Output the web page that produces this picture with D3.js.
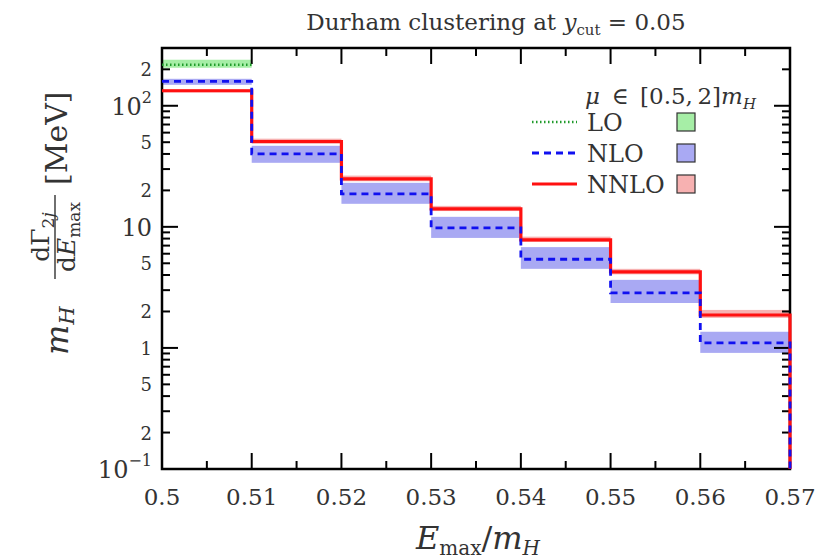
<!DOCTYPE html>
<html><head><meta charset="utf-8">
<script src="https://cdn.jsdelivr.net/npm/d3@7"></script>
<style>body{margin:0;background:#fff}svg{display:block}svg text{font-family:"DejaVu Serif"}</style>
</head><body><svg id="c" width="822" height="559"></svg>
<script>
const binEdges = [0.50,0.51,0.52,0.53,0.54,0.55,0.56,0.57];
const loCentral = [218];
const loLow = [206];
const loHigh = [240];
const nloCentral = [159,40.1,18.7,9.8,5.4,2.85,1.10];
const nloLow = [149,33.8,15.5,8.1,4.5,2.35,0.91];
const nloHigh = [167,46.7,23.1,12.1,6.8,3.65,1.36];
const nnloCentral = [133,50.7,24.9,14.1,7.8,4.24,1.87];
const nnloLow = [129,48.5,23.8,13.5,7.5,4.05,1.77];
const nnloHigh = [137,53.5,26.5,14.9,8.3,4.5,2.06];
const xTicks = [0.50,0.51,0.52,0.53,0.54,0.55,0.56,0.57];
const xTickLabels = ["0.5","0.51","0.52","0.53","0.54","0.55","0.56","0.57"];
const yLabelTicks = [0.1,0.2,0.5,1,2,5,10,20,50,100,200];
const yLabelText = [["10","−1"],["2"],["5"],["1"],["2"],["5"],["10"],["2"],["5"],["10","2"],["2"]];

const svg = d3.select("#c");
const INK = "#333";
const L=162,R=790,T=48,B=469;
const x = d3.scaleLinear().domain([0.50,0.57]).range([L,R]);
const y = d3.scaleLog().domain([0.1,300]).range([B,T]);

function bands(lo,hi,color){
  svg.append("g").selectAll("rect").data(lo).join("rect")
    .attr("x",(d,i)=>x(binEdges[i])).attr("width",(d,i)=>x(binEdges[i+1])-x(binEdges[i]))
    .attr("y",(d,i)=>y(hi[i])).attr("height",(d,i)=>y(lo[i])-y(hi[i]))
    .attr("fill",color);
}
bands(loLow,loHigh,"#a6eea6");
bands(nloLow,nloHigh,"#a9a9f3");
bands(nnloLow,nnloHigh,"#f7b1b1");

const g = svg.append("g").attr("stroke","#000");
const minorX = d3.range(0.505,0.57,0.01);
xTicks.forEach(v=>{
  g.append("line").attr("x1",x(v)).attr("x2",x(v)).attr("y1",B).attr("y2",B-16).attr("stroke-width",2);
  g.append("line").attr("x1",x(v)).attr("x2",x(v)).attr("y1",T).attr("y2",T+16).attr("stroke-width",2);
});
minorX.forEach(v=>{
  g.append("line").attr("x1",x(v)).attr("x2",x(v)).attr("y1",B).attr("y2",B-8).attr("stroke-width",2);
  g.append("line").attr("x1",x(v)).attr("x2",x(v)).attr("y1",T).attr("y2",T+8).attr("stroke-width",2);
});
const yAll = [];
[0.1,1,10,100].forEach(dec=>{for(let k=1;k<=9;k++){const v=dec*k; if(v<=300) yAll.push([v,k===1]);}});
yAll.forEach(([v,maj])=>{
  const len = maj?16:8;
  g.append("line").attr("x1",L).attr("x2",L+len).attr("y1",y(v)).attr("y2",y(v)).attr("stroke-width",2);
  g.append("line").attr("x1",R).attr("x2",R-len).attr("y1",y(v)).attr("y2",y(v)).attr("stroke-width",2);
});
g.append("rect").attr("x",L).attr("y",T).attr("width",R-L).attr("height",B-T).attr("fill","none").attr("stroke-width",2.5);

svg.append("g").selectAll("text").data(xTicks).join("text")
  .attr("x",d=>x(d)).attr("y",B+36).attr("text-anchor","middle").attr("font-size",23).attr("fill",INK)
  .text((d,i)=>xTickLabels[i]);
yLabelTicks.forEach((v,i)=>{
  const lab = yLabelText[i];
  const big = lab[0].length>1 || lab.length>1;
  const t = svg.append("text").attr("x",L-10).attr("y",y(v)+(big?9:7)).attr("text-anchor","end").attr("font-size",big?24:18).attr("fill",INK);
  t.append("tspan").text(lab[0]);
  if(lab.length>1) t.append("tspan").attr("dy",-12).attr("font-size",16).text(lab[1]);
});

function stepPts(vals){
  const pts = vals.map((v,i)=>[binEdges[i],v]);
  pts.push([binEdges[vals.length],vals[vals.length-1]]);
  return pts;
}
const line = d3.line().x(d=>x(d[0])).y(d=>y(d[1])).curve(d3.curveStepAfter);
const nnloPts = stepPts(nnloCentral); nnloPts.push([binEdges[7],0.1]);
const nloPts = stepPts(nloCentral); nloPts.push([binEdges[7],0.1]);
const loPts = stepPts(loCentral);
svg.append("path").attr("d",line(nnloPts)).attr("fill","none").attr("stroke","#ff1010").attr("stroke-width",3.2);
svg.append("path").attr("d",line(nloPts)).attr("fill","none").attr("stroke","#1010f0").attr("stroke-width",2.8).attr("stroke-dasharray","7,5");
svg.append("path").attr("d",line(loPts)).attr("fill","none").attr("stroke","#1f9a2a").attr("stroke-width",2.5).attr("stroke-dasharray","1.5,2.5");

// title
const tt = svg.append("text").attr("x",496).attr("y",30).attr("text-anchor","middle").attr("font-size",23).attr("fill",INK);
tt.append("tspan").text("Durham clustering at ");
tt.append("tspan").attr("font-style","italic").text("y");
tt.append("tspan").attr("font-size",15).attr("dy",5).text("cut");
tt.append("tspan").attr("dy",-5).text(" = 0.05");

// x label
const xl = svg.append("text").attr("x",478).attr("y",549).attr("text-anchor","middle").attr("font-size",32).attr("fill",INK);
xl.append("tspan").attr("font-style","italic").text("E");
xl.append("tspan").attr("font-size",20).attr("dy",6).text("max");
xl.append("tspan").attr("dy",-6).text("/");
xl.append("tspan").attr("font-style","italic").text("m");
xl.append("tspan").attr("font-style","italic").attr("font-size",20).attr("dy",6).text("H");

// y label (rotated): screen x = y', screen y = 225 - x'
const yl = svg.append("g").attr("transform","translate(0,225) rotate(-90)").attr("fill",INK);
const m = yl.append("text").attr("x",-130).attr("y",68).attr("font-size",32);
m.append("tspan").attr("font-style","italic").text("m");
m.append("tspan").attr("font-style","italic").attr("font-size",21).attr("dy",6).text("H");
const num = yl.append("text").attr("x",-12).attr("y",49).attr("text-anchor","middle").attr("font-size",25);
num.append("tspan").text("dΓ");
num.append("tspan").attr("font-size",17).attr("dy",5).text("2");
num.append("tspan").attr("font-size",17).attr("font-style","italic").text("j");
yl.append("line").attr("x1",-54).attr("x2",30).attr("y1",55).attr("y2",55).attr("stroke",INK).attr("stroke-width",1.4);
const den = yl.append("text").attr("x",-12).attr("y",75).attr("text-anchor","middle").attr("font-size",25);
den.append("tspan").text("d");
den.append("tspan").attr("font-style","italic").text("E");
den.append("tspan").attr("font-size",17).attr("dy",5).text("max");
yl.append("text").attr("x",40).attr("y",67).attr("font-size",30).text("[MeV]");

// legend
const lg = svg.append("g").attr("fill",INK);
const lt = lg.append("text").attr("x",756).attr("y",104).attr("text-anchor","end").attr("font-size",23);
lt.append("tspan").attr("font-style","italic").text("μ");
lt.append("tspan").text("\u2002∈\u2002[0.5,\u20092]");
lt.append("tspan").attr("font-style","italic").text("m");
lt.append("tspan").attr("font-style","italic").attr("font-size",15).attr("dy",5).text("H");
const legItems = [
  {name:"LO", stroke:"#1f9a2a", dash:"1.5,2.5", w:2.5, fill:"#a6eea6"},
  {name:"NLO", stroke:"#1010f0", dash:"7,5", w:2.8, fill:"#a9a9f3"},
  {name:"NNLO", stroke:"#ff1010", dash:null, w:3.2, fill:"#f7b1b1"}
];
legItems.forEach((it,i)=>{
  const yy = 122 + i*31;
  lg.append("line").attr("x1",532).attr("x2",577).attr("y1",yy).attr("y2",yy)
    .attr("stroke",it.stroke).attr("stroke-width",it.w).attr("stroke-dasharray",it.dash);
  lg.append("text").attr("x",587).attr("y",yy+9).attr("font-size",24).text(it.name);
  lg.append("rect").attr("x",677).attr("y",yy-9).attr("width",18).attr("height",18)
    .attr("fill",it.fill).attr("stroke","#333").attr("stroke-width",1.2);
});
</script></body></html>
